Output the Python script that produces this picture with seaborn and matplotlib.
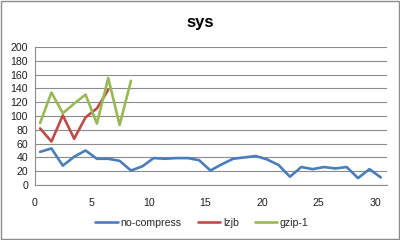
import numpy as np
import pandas as pd
import matplotlib
matplotlib.use("Agg")
import matplotlib.pyplot as plt
import seaborn as sns
from matplotlib.patches import Rectangle
from matplotlib.lines import Line2D

x_no = [0.45, 1.45, 2.45, 3.45, 4.45, 5.45, 6.45, 7.45, 8.45, 9.45, 10.45,
        11.45, 12.45, 13.45, 14.45, 15.45, 16.45, 17.45, 18.45, 19.45, 20.45,
        21.45, 22.45, 23.45, 24.45, 25.45, 26.45, 27.45, 28.45, 29.45, 30.45]
no_compress = [48, 53, 28, 41, 50, 38, 38, 35, 21, 27, 39,
               38, 39, 39, 36, 21, 30, 38, 40, 42, 37,
               29, 12, 26, 23, 26, 24, 26, 10, 23, 11]
x_lz = [0.45, 1.45, 2.45, 3.45, 4.45, 5.45, 6.45]
lzjb = [82, 63, 101, 67, 98, 111, 138]
x_gz = [0.45, 1.45, 2.45, 3.45, 4.45, 5.45, 6.45, 7.45, 8.45]
gzip1 = [90, 134, 104, 118, 131, 89, 155, 87, 151]

series = ["no-compress", "lzjb", "gzip-1"]
colors = ["#4A7EBB", "#BE4B48", "#98B954"]

df = pd.concat([
    pd.DataFrame({"x": x_no, "y": no_compress, "s": series[0]}),
    pd.DataFrame({"x": x_lz, "y": lzjb, "s": series[1]}),
    pd.DataFrame({"x": x_gz, "y": gzip1, "s": series[2]}),
], ignore_index=True)

sns.set_theme(style="white")
plt.rcParams['font.family'] = ['Liberation Sans', 'DejaVu Sans']

fig = plt.figure(figsize=(4, 2.4), dpi=100)
ax = fig.add_axes([35/400, 1-185/240, (387-35)/400, (185-47)/240])

sns.lineplot(data=df, x="x", y="y", hue="s", hue_order=series,
             palette=colors, sort=False, linewidth=1.9, ax=ax, legend=False,
             estimator=None)

ax.set_xlim(0, 31)
ax.set_ylim(0, 200)
ax.set_yticks(range(0, 201, 20))
ax.set_xticks(range(0, 31, 5))
ax.yaxis.grid(True, color="#8C8C8C", linewidth=0.8)
ax.set_axisbelow(True)
for s in ["top", "right"]:
    ax.spines[s].set_visible(False)
for s in ["left", "bottom"]:
    ax.spines[s].set_color("#8C8C8C")
    ax.spines[s].set_linewidth(0.8)
ax.tick_params(axis="both", labelsize=7.6, colors="#8C8C8C", labelcolor="#1F1F1F",
               length=3, width=0.8, direction="out", pad=2)
ax.tick_params(axis="x", pad=6)
ax.set_xlabel("")
ax.set_ylabel("")

fig.text(0.5, 1-22/240, "sys", ha="center", va="center", fontsize=12,
         fontweight="bold", color="black")

handles = [Line2D([0], [0], color=c, lw=1.9) for c in colors]
fig.legend(handles, series, loc="center", bbox_to_anchor=(0.505, 1-223/240),
           ncol=3, frameon=False, fontsize=7.6, handlelength=2.1,
           columnspacing=1.5, handletextpad=0.3)

fig.patches.append(Rectangle((0.002, 0.003), 0.995, 0.993, transform=fig.transFigure,
                             fill=False, edgecolor="#8C8C8C", linewidth=1.0))

fig.savefig("out.png", dpi=100)
